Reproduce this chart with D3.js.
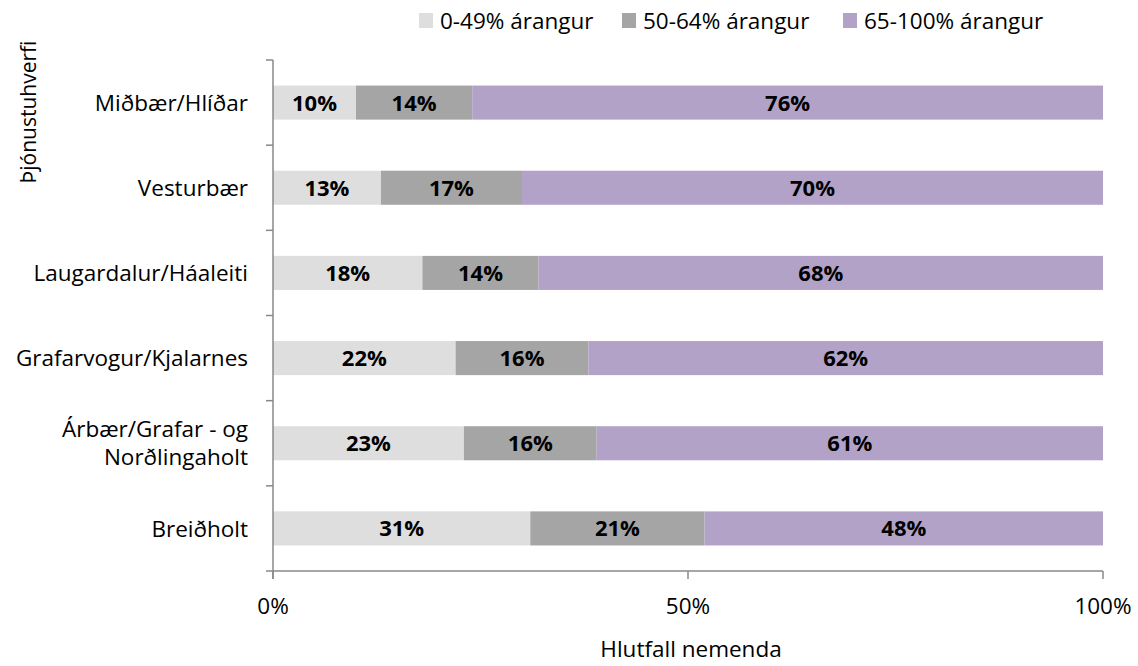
<!DOCTYPE html>
<html><head><meta charset="utf-8">
<script src="https://cdn.jsdelivr.net/npm/d3@7"></script>
<style>body{margin:0;background:#fff}svg{display:block}text{font-family:"Open Sans",sans-serif}</style>
</head><body>
<svg id="c" width="1138" height="666"></svg>
<script>
const categories = ["Miðbær/Hlíðar","Vesturbær","Laugardalur/Háaleiti","Grafarvogur/Kjalarnes","Árbær/Grafar - og|Norðlingaholt","Breiðholt"];
const seriesNames = ["0-49% árangur","50-64% árangur","65-100% árangur"];
const low  = [10,13,18,22,23,31];
const mid  = [14,17,14,16,16,21];
const high = [76,70,68,62,61,48];
const xTicks = [0,50,100];
const colors = ["#dedede","#a5a5a5","#b3a2c7"];

(function(){
const FS = 22.5, FB = 22, FL = 22.5;
const svg = d3.select("#c");
const pl = 273, pr = 1103, pt = 60, pb = 571;
const x = d3.scaleLinear().domain([0,100]).range([pl,pr]);
const y = d3.scaleBand().domain(categories).range([pt,pb]).paddingInner(0.6).paddingOuter(0.3);

const rows = categories.map((c,i)=>({cat:c, v:[low[i],mid[i],high[i]]}));
const g = svg.append("g");
rows.forEach(r=>{
  let acc=0;
  r.v.forEach((v,k)=>{
    const x0=acc; acc+=v;
    g.append("rect").attr("x",x(x0)).attr("y",y(r.cat)).attr("width",x(acc)-x(x0)).attr("height",y.bandwidth()).attr("fill",colors[k]);
    g.append("text").attr("x",(x(x0)+x(acc))/2).attr("y",y(r.cat)+y.bandwidth()/2).attr("dy","0.36em")
      .attr("text-anchor","middle").attr("font-weight","bold").attr("font-size",FB).attr("fill","#000").text(v+"%");
  });
});

const axisColor="#888";
svg.append("line").attr("x1",pl).attr("x2",pl).attr("y1",pt).attr("y2",pb+8).attr("stroke",axisColor).attr("stroke-width",1.5);
const step = (pb-pt)/categories.length;
for(let i=0;i<=categories.length;i++){
  const yy = pt+step*i;
  svg.append("line").attr("x1",pl-7).attr("x2",pl).attr("y1",yy).attr("y2",yy).attr("stroke",axisColor).attr("stroke-width",1.5);
}
svg.append("line").attr("x1",pl).attr("x2",pr).attr("y1",pb).attr("y2",pb).attr("stroke",axisColor).attr("stroke-width",1.5);
xTicks.forEach(t=>{
  svg.append("line").attr("x1",x(t)).attr("x2",x(t)).attr("y1",pb).attr("y2",pb+8).attr("stroke",axisColor).attr("stroke-width",1.5);
  svg.append("text").attr("x",x(t)).attr("y",614).attr("text-anchor","middle").attr("font-size",FS).attr("fill","#000").text(t+"%");
});
categories.forEach(c=>{
  const parts=c.split("|");
  const cy=y(c)+y.bandwidth()/2;
  parts.forEach((p,j)=>{
    svg.append("text").attr("x",248).attr("y",cy+(j-(parts.length-1)/2)*28).attr("dy","0.36em")
      .attr("text-anchor","end").attr("font-size",FS).attr("fill","#000").text(p);
  });
});
svg.append("text").attr("x",691).attr("y",657).attr("text-anchor","middle").attr("font-size",FS).attr("fill","#000").text("Hlutfall nemenda");
svg.append("text").attr("transform","translate(36,112) rotate(-90)").attr("text-anchor","middle").attr("font-size",21).attr("fill","#000").text("Þjónustuhverfi");
const legX=[419,622,843];
seriesNames.forEach((s,k)=>{
  svg.append("rect").attr("x",legX[k]).attr("y",13).attr("width",14).attr("height",15).attr("fill",colors[k]);
  svg.append("text").attr("x",legX[k]+21).attr("y",20.5).attr("dy","0.36em").attr("font-size",FL).attr("fill","#000").text(s);
});
})();
</script>
</body></html>
